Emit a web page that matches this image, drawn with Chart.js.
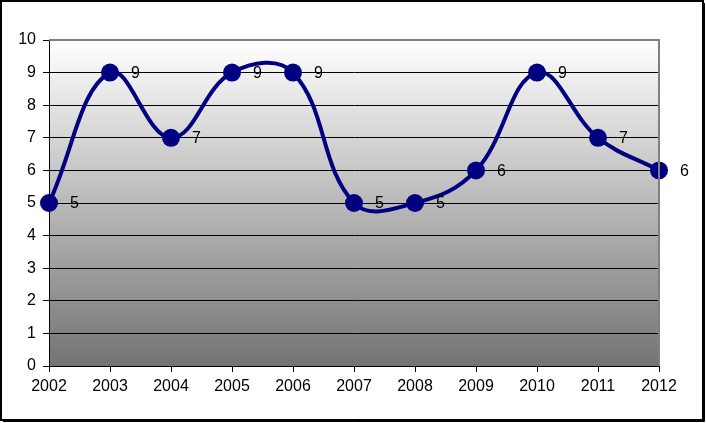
<!DOCTYPE html>
<html>
<head>
<meta charset="utf-8">
<script src="https://cdn.jsdelivr.net/npm/chart.js@4"></script>
<style>
  html, body { margin: 0; padding: 0; background: #fff; }
  #wrap { width: 706px; height: 423px; position: relative; }
</style>
</head>
<body>
<div id="wrap"><canvas id="chart"></canvas></div>
<script>
const years = ['2002', '2003', '2004', '2005', '2006', '2007', '2008', '2009', '2010', '2011', '2012'];
const values = [5, 9, 7, 9, 9, 5, 5, 6, 9, 7, 6];

const FONT = 'Liberation Sans, Arial, sans-serif';

// gradient plot background + frame around the chart
const backdrop = {
    id: 'backdrop',
    beforeDraw(chart) {
        const c = chart.ctx, a = chart.chartArea;
        c.save();
        c.fillStyle = '#fff';
        c.fillRect(0, 0, chart.width, chart.height);
        const g = c.createLinearGradient(0, a.top, 0, a.bottom);
        g.addColorStop(0, '#ffffff');
        g.addColorStop(1, '#737373');
        c.fillStyle = g;
        c.fillRect(a.left, a.top, a.right - a.left, a.bottom - a.top);
        c.restore();
    },
    afterDraw(chart) {
        const c = chart.ctx, a = chart.chartArea;
        c.save();
        c.strokeStyle = '#808080';
        c.lineWidth = 2;
        c.beginPath();
        c.moveTo(a.left, a.top);
        c.lineTo(a.right, a.top);
        c.lineTo(a.right, a.bottom);
        c.stroke();
        c.strokeStyle = '#000';
        c.lineWidth = 2;
        c.strokeRect(1, 1, chart.width - 4, chart.height - 4);
        c.lineWidth = 1;
        c.beginPath();
        c.moveTo(chart.width - 1.5, 3);
        c.lineTo(chart.width - 1.5, chart.height - 1.5);
        c.lineTo(3, chart.height - 1.5);
        c.stroke();
        c.restore();
    }
};

// value labels to the right of each point
const pointLabels = {
    id: 'pointLabels',
    afterDatasetsDraw(chart) {
        const c = chart.ctx;
        const meta = chart.getDatasetMeta(0);
        c.save();
        c.font = '16px ' + FONT;
        c.fillStyle = '#000';
        c.textAlign = 'left';
        c.textBaseline = 'middle';
        meta.data.forEach((pt, i) => {
            c.fillText(String(values[i]), pt.x + 21, pt.y + 1);
        });
        c.restore();
    }
};

new Chart(document.getElementById('chart'), {
    type: 'line',
    data: {
        labels: years,
        datasets: [{
            data: values,
            borderColor: '#000080',
            backgroundColor: '#000080',
            borderWidth: 4,
            tension: 0.4,
            pointRadius: 9,
            pointHoverRadius: 9,
            pointBorderWidth: 0,
            clip: false
        }]
    },
    options: {
        responsive: true,
        maintainAspectRatio: false,
        animation: false,
        events: [],
        layout: { padding: { left: 0, top: 40, right: 47, bottom: 0 } },
        plugins: { legend: { display: false }, tooltip: { enabled: false } },
        scales: {
            x: {
                offset: false,
                grid: { drawOnChartArea: false, color: '#000', tickLength: 6 },
                border: { color: '#000', width: 1 },
                ticks: { color: '#000', font: { family: FONT, size: 16 }, padding: 5, maxRotation: 0, autoSkip: false },
                afterFit(s) { s.height = 57; }
            },
            y: {
                min: 0,
                max: 10,
                ticks: { stepSize: 1, color: '#000', font: { family: FONT, size: 16 }, padding: 7 },
                grid: {
                    color: ctx => (ctx.tick && ctx.tick.value === 10) ? '#808080' : '#000',
                    tickColor: '#000',
                    tickLength: 6
                },
                border: { color: '#000', width: 1 },
                afterFit(s) { s.width = 49; }
            }
        }
    },
    plugins: [backdrop, pointLabels]
});
</script>
</body>
</html>
